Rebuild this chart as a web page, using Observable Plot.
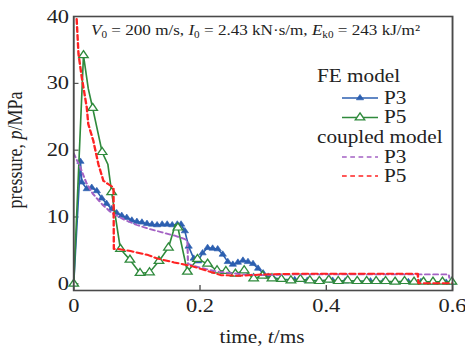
<!DOCTYPE html>
<html><head><meta charset="utf-8">
<script src="https://cdn.jsdelivr.net/npm/d3@7"></script>
<script src="https://cdn.jsdelivr.net/npm/@observablehq/plot@0.6"></script>
<style>html,body{margin:0;padding:0;background:#fff}#chart svg{display:block}</style>
</head><body><div id="chart"></div>
<script>
const xTicks = [0, 0.2, 0.4, 0.6];
const yTicks = [0, 10, 20, 30, 40];

// FE model, P3
const feP3Time = [0, 0.0106, 0.0127, 0.0206, 0.0285, 0.0365, 0.0444, 0.052, 0.060, 0.068, 0.076, 0.084, 0.092, 0.100, 0.108, 0.116, 0.124, 0.132, 0.140, 0.148, 0.156, 0.164, 0.170, 0.176, 0.182, 0.190, 0.197, 0.204, 0.212, 0.220, 0.228, 0.236, 0.244, 0.252, 0.260, 0.268, 0.276, 0.284, 0.292, 0.300, 0.308, 0.316, 0.33, 0.35, 0.37, 0.39, 0.41, 0.43, 0.45, 0.47, 0.49, 0.51, 0.53, 0.55, 0.57, 0.59, 0.6];
const feP3Pressure = [0, 18.3, 15.2, 14.2, 14.4, 13.9, 12.8, 12.0, 11.2, 10.6, 10.2, 9.9, 9.5, 9.3, 9.2, 9.0, 8.9, 8.8, 8.9, 8.9, 8.8, 8.9, 8.9, 7.9, 5.6, 3.8, 3.4, 4.6, 5.4, 5.3, 5.2, 4.4, 3.3, 2.9, 3.2, 3.5, 3.3, 3.0, 2.3, 1.6, 1.1, 0.9, 0.7, 0.6, 0.5, 0.5, 0.5, 0.4, 0.4, 0.4, 0.3, 0.3, 0.3, 0.3, 0.2, 0.2, 0.2];

// FE model, P5 (marker: 1 = triangle drawn at this vertex)
const feP5Time = [0, 0.0154, 0.023, 0.030, 0.045, 0.054, 0.060, 0.074, 0.089, 0.105, 0.120, 0.135, 0.150, 0.161, 0.165, 0.180, 0.196, 0.212, 0.227, 0.241, 0.256, 0.270, 0.285, 0.299, 0.314, 0.329, 0.344, 0.359, 0.374, 0.389, 0.404, 0.419, 0.434, 0.449, 0.464, 0.479, 0.494, 0.509, 0.524, 0.539, 0.554, 0.569, 0.584, 0.599];
const feP5Pressure = [0, 34.2, 29.2, 26.3, 19.7, 17.9, 13.7, 5.2, 3.6, 1.6, 1.7, 3.4, 5.4, 8.9, 8.4, 1.8, 3.7, 3.0, 2.0, 1.9, 1.5, 2.0, 0.8, 1.2, 0.8, 0.7, 0.5, 0.7, 0.5, 0.4, 0.6, 0.4, 0.5, 0.4, 0.4, 0.4, 0.4, 0.3, 0.4, 0.3, 0.3, 0.3, 0.3, 0.3];
const feP5Marker = [1, 1, 0, 1, 1, 0, 1, 1, 1, 1, 1, 1, 1, 0, 1, 1, 1, 1, 1, 1, 1, 1, 1, 1, 1, 1, 1, 1, 1, 1, 1, 1, 1, 1, 1, 1, 1, 1, 1, 1, 1, 1, 1, 1];

// coupled model, P3
const cpP3Time = [0, 0.01, 0.02, 0.03, 0.045, 0.06, 0.08, 0.10, 0.12, 0.14, 0.16, 0.176, 0.18, 0.181, 0.19, 0.21, 0.23, 0.25, 0.27, 0.3, 0.35, 0.4, 0.45, 0.5, 0.55, 0.594, 0.595];
const cpP3Pressure = [19.5, 17.5, 15.1, 13.5, 11.9, 10.6, 9.6, 8.8, 8.2, 7.7, 7.2, 6.7, 6.4, 3.0, 2.7, 2.2, 1.8, 1.6, 1.4, 1.3, 1.4, 1.4, 1.4, 1.4, 1.4, 1.4, 0.9];

// coupled model, P5
const cpP5Time = [0, 0.0075, 0.0127, 0.0206, 0.023, 0.031, 0.039, 0.047, 0.055, 0.063, 0.0635, 0.071, 0.09, 0.118, 0.132, 0.159, 0.185, 0.211, 0.233, 0.26, 0.3, 0.35, 0.4, 0.45, 0.5, 0.545, 0.546, 0.6];
const cpP5Pressure = [48, 34.4, 30.9, 26.4, 23.9, 21.4, 17.9, 15.4, 14.9, 14.4, 5.2, 5.2, 4.9, 4.3, 3.8, 3.2, 2.7, 1.95, 1.3, 1.2, 1.4, 1.5, 1.5, 1.5, 1.5, 1.5, 0.1, 0.1];

const toRows = (t, p) => t.map((d, i) => ({t: d, p: p[i], i}));
const feP3 = toRows(feP3Time, feP3Pressure);
const feP5 = toRows(feP5Time, feP5Pressure);
const cpP3 = toRows(cpP3Time, cpP3Pressure);
const cpP5 = toRows(cpP5Time, cpP5Pressure);

const BLUE = "#2c5fb0", GREEN = "#2f8a3c", PURPLE = "#a462c4", RED = "#ff2222";
const W = 465, H = 349, SX = 1.18, W0 = W / SX;
const FONT = "'Liberation Serif','Times New Roman',serif";

const chart = Plot.plot({
  width: W0, height: H,
  marginLeft: 62, marginRight: W0 - 383, marginTop: 16, marginBottom: 59,
  style: {fontFamily: FONT, fontSize: "19px", background: "white", color: "#222", overflow: "visible"},
  x: {domain: [0, 0.6]},
  y: {domain: [-1, 40]},
  marks: [
    Plot.axisX(xTicks, {tickSize: 0, tickPadding: 8, label: null, fontSize: 19, tickFormat: d => String(d)}),
    Plot.axisX(xTicks, {tickSize: -5, tickFormat: () => "", label: null, stroke: "#333"}),
    Plot.axisY(yTicks, {tickSize: 0, tickPadding: 4, label: null, fontSize: 19}),
    Plot.axisY(yTicks, {tickSize: -4.5, tickFormat: () => "", label: null, stroke: "#333"}),
    Plot.line(feP3, {x: "t", y: "p", stroke: BLUE, strokeWidth: 1.4, clip: true}),
    Plot.dot(feP3, {x: "t", y: "p", symbol: "triangle", r: 2.3, fill: BLUE, stroke: BLUE, strokeWidth: 0.6}),
    Plot.line(feP5, {x: "t", y: "p", stroke: GREEN, strokeWidth: 1.4, clip: true}),
    Plot.dot(feP5, {filter: d => feP5Marker[d.i] === 1, x: "t", y: "p", symbol: "triangle", r: 3, fill: "white", stroke: GREEN, strokeWidth: 1.2}),
    Plot.line(cpP3, {x: "t", y: "p", stroke: PURPLE, strokeWidth: 1.8, strokeDasharray: "4,3", clip: true}),
    Plot.line(cpP5, {x: "t", y: "p", stroke: RED, strokeWidth: 2, strokeDasharray: "5,3", clip: true}),
    Plot.frame({stroke: "#4a4a4a", strokeWidth: 1.6})
  ]
});

chart.setAttribute("width", W);
chart.setAttribute("height", H);
chart.setAttribute("preserveAspectRatio", "none");
chart.style.maxWidth = "none";
chart.style.width = W + "px";
chart.style.height = H + "px";

const svg = d3.select(chart);
const g = svg.append("g").attr("font-family", FONT).attr("fill", "#222").attr("text-anchor", "start");

// y-axis label
const yl = g.append("text").attr("transform", `translate(${22 / SX},150) rotate(-90)`)
  .attr("text-anchor", "middle").attr("font-size", 18);
yl.append("tspan").text("pressure, ");
yl.append("tspan").attr("font-style", "italic").text("p");
yl.append("tspan").text("/MPa");

// x-axis label
const xl = g.append("text").attr("x", 262 / SX).attr("y", 343).attr("text-anchor", "middle").attr("font-size", 18);
xl.append("tspan").text("time, ");
xl.append("tspan").attr("font-style", "italic").text("t");
xl.append("tspan").text("/ms");

// annotation
const an = g.append("text").attr("x", 91 / SX).attr("y", 35).attr("font-size", 14.5);
const it = s => an.append("tspan").attr("font-style", "italic").text(s);
const sub = s => an.append("tspan").attr("font-size", 9.5).attr("dy", 3.5).text(s);
const txt = s => an.append("tspan").attr("dy", -3.5).text(s);
it("V"); sub("0"); txt(" = 200 m/s, ");
it("I"); sub("0"); txt(" = 2.43 kN·s/m, ");
it("E"); sub("k0"); txt(" = 243 kJ/m²");

// legend
const lg = g.append("g").attr("font-size", 18);
const lx0 = 317 / SX, lx1 = 342 / SX, lx2 = 378 / SX, lxt = 384 / SX;
lg.append("text").attr("x", lx0).attr("y", 82).text("FE model");
lg.append("text").attr("x", lx0).attr("y", 143).text("coupled model");
const entries = [
  {y: 98, color: BLUE, dash: null, sym: "fill", label: "P3"},
  {y: 117.5, color: GREEN, dash: null, sym: "hollow", label: "P5"},
  {y: 157, color: PURPLE, dash: "4,3", sym: null, label: "P3"},
  {y: 176, color: RED, dash: "4,3", sym: null, label: "P5"}
];
for (const e of entries) {
  lg.append("line").attr("x1", lx1).attr("x2", lx2).attr("y1", e.y).attr("y2", e.y)
    .attr("stroke", e.color).attr("stroke-width", e.dash ? 1.6 : 1.4).attr("stroke-dasharray", e.dash);
  if (e.sym) {
    const r = e.sym === "fill" ? 2.3 : 3;
    lg.append("path").attr("d", d3.symbol(d3.symbolTriangle, Math.PI * r * r)())
      .attr("transform", `translate(${(lx1 + lx2) / 2},${e.y})`)
      .attr("fill", e.sym === "fill" ? e.color : "white").attr("stroke", e.color)
      .attr("stroke-width", e.sym === "fill" ? 0.6 : 1.2);
  }
  lg.append("text").attr("x", lxt).attr("y", e.y + 6).text(e.label);
}

document.getElementById("chart").appendChild(chart);
</script>
</body></html>
